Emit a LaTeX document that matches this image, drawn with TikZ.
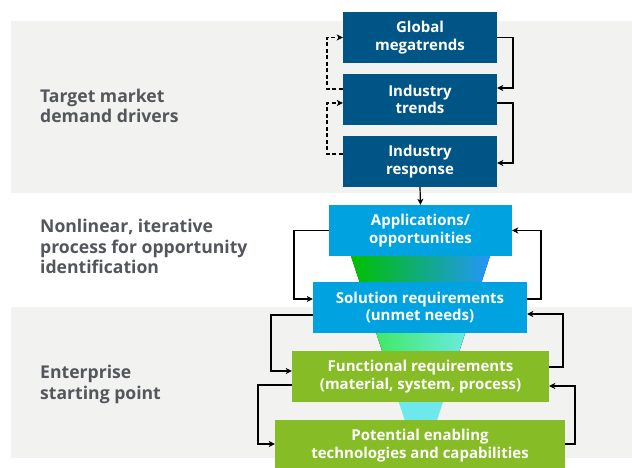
\documentclass[tikz,border=0pt]{standalone}
\usepackage{fontspec}
\setmainfont{Open Sans}
\usetikzlibrary{arrows.meta,calc}
\definecolor{bandgrey}{RGB}{242,242,241}
\definecolor{darkblue}{RGB}{0,85,135}
\definecolor{lightblue}{RGB}{0,163,224}
\definecolor{dgreen}{RGB}{134,188,37}
\definecolor{labelgrey}{RGB}{83,86,90}
\definecolor{fA}{RGB}{0,192,0}
\definecolor{fB}{RGB}{16,118,135}
\definecolor{fC}{RGB}{35,150,250}
\definecolor{fD}{RGB}{65,232,100}
\definecolor{fE}{RGB}{105,235,228}
\definecolor{fF}{RGB}{110,232,235}
\tikzset{
  box/.style={rectangle, inner sep=0pt, text=white, align=center,
    font=\bfseries\fontsize{15}{17.5}\selectfont},
  dbox/.style={box, fill=darkblue, minimum width=154pt, minimum height=51pt},
  sidelabel/.style={anchor=base west, inner sep=0pt, align=left, text=labelgrey,
    font=\bfseries\fontsize{17.6}{20.3}\selectfont},
  conn/.style={line width=1.2pt, -{Stealth[length=6pt,width=6pt,inset=1.5pt]}},
  dconn/.style={conn, dash pattern=on 4pt off 2.5pt},
}
\begin{document}
\begin{tikzpicture}[x=1pt,y=-1pt]
\useasboundingbox (0,0) rectangle (632,468);
\fill[white] (0,0) rectangle (632,468);
% bands
\fill[bandgrey] (11,21) rectangle (632,193);
\fill[bandgrey] (11,307) rectangle (632,458);
% funnel
\begin{scope}
\clip (351,256) -- (490,256) -- (421,470) -- cycle;
\fill[left color=fA, middle color=fB, right color=fC] (351,250) rectangle (490,290);
\fill[left color=fD, right color=fE] (374,325) rectangle (468,360);
\fill[fF] (380,395) rectangle (460,430);
\end{scope}
% boxes
\node[dbox] (global) at (420,37.5) {Global\\megatrends};
\node[dbox] (trends) at (420,99.5) {Industry\\trends};
\node[dbox] (resp) at (420,161.5) {Industry\\response};
\node[box, fill=lightblue, minimum width=183pt, minimum height=51pt] (apps) at (420.5,230.5) {Applications/\\opportunities};
\node[box, fill=lightblue, minimum width=214pt, minimum height=51pt] (sol) at (420,307.5) {Solution requirements\\(unmet needs)};
\node[box, fill=dgreen, minimum width=257pt, minimum height=51pt] (func) at (420.5,376.5) {Functional requirements\\(material, system, process)};
\node[box, fill=dgreen, minimum width=290pt, minimum height=51pt] (pot) at (420,445.5) {Potential enabling\\technologies and capabilities};
% side labels (anchor = baseline of last line)
\node[sidelabel] (l1) at (40,122.7) {Target market\\demand drivers};
\node[sidelabel] (l2) at (40,273.5) {Nonlinear, iterative\\process for opportunity\\identification};
\node[sidelabel] (l3) at (40,399) {Enterprise\\starting point};
% connectors
\draw[dconn] ($(trends.west)+(0,-10.5)$) -- (327,89) |- (global.west);
\draw[dconn] ($(resp.west)+(0,-7.5)$) -- (327,154) |- ($(trends.west)+(0,3.5)$);
\draw[conn] (global.east) -- (513,37.5) |- ($(trends.east)+(0,-11.5)$);
\draw[conn] ($(trends.east)+(0,3.5)$) -- (513,103) |- ($(resp.east)+(0,1.5)$);
\draw[conn] (resp.south) -- (apps.north);
\draw[conn] (apps.west) -- (294,230.5) |- ($(sol.west)+(0,-8.5)$);
\draw[conn] ($(sol.east)+(0,-8.5)$) -- (541,299) |- (apps.east);
\draw[conn] ($(sol.west)+(0,7.5)$) -- (271,315) |- ($(func.west)+(0,-5.5)$);
\draw[conn] ($(func.east)+(0,-9.5)$) -- (563,367) |- ($(sol.east)+(0,6.5)$);
\draw[conn] ($(func.west)+(0,8.5)$) -- (258,385) |- ($(pot.west)+(0,-1.5)$);
\draw[conn] ($(pot.east)+(0,-1.5)$) -- (575,444) |- ($(func.east)+(0,9.5)$);
\end{tikzpicture}
\end{document}
